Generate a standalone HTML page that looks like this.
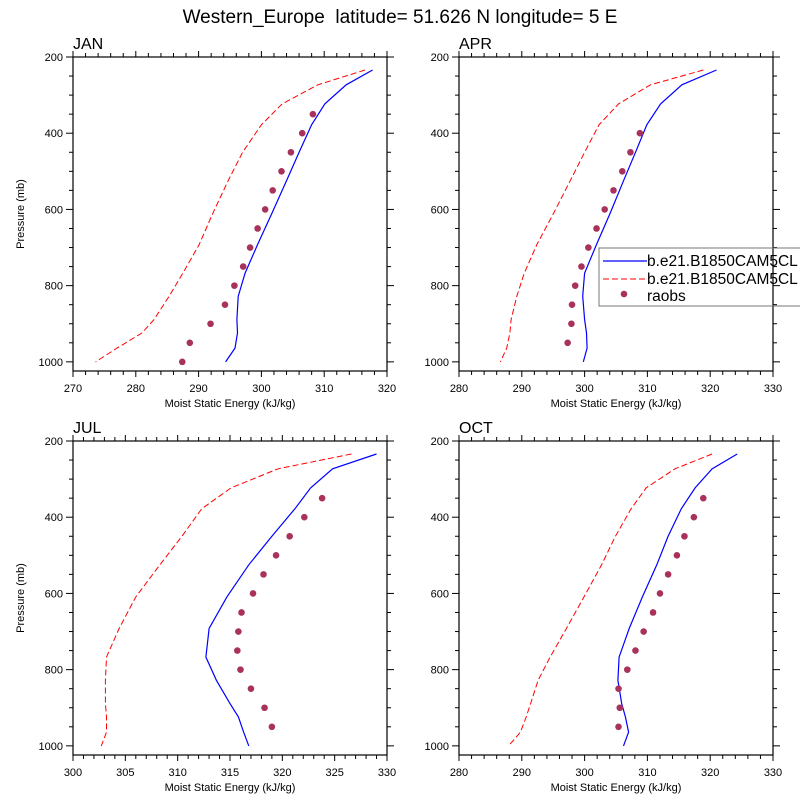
<!DOCTYPE html>
<html><head><meta charset="utf-8"><style>
body{margin:0;background:#fff;}
svg{display:block;font-family:"Liberation Sans",sans-serif;}
</style></head><body>
<svg id="chart" width="800" height="800" viewBox="0 0 800 800">
<text x="400" y="23" text-anchor="middle" font-size="19">Western_Europe &#160;latitude= 51.626 N longitude= 5 E</text>
</svg>
<script>
const levels=[234,273,323,378,450,525,609,692,767,828,889,924,964,1000];
const janBlue=[317.7,313.5,310.1,308,306.0,304.0,301.7,299.4,297.4,296.3,296.1,296.2,295.8,294.3];
const janRed=[316.5,309,303.3,300,297.0,294.7,292.3,290.1,287.5,285.3,282.9,281,277,273.6];
const janObsP=[350,400,450,500,550,600,650,700,750,800,850,900,950,1000];
const janObs=[308.2,306.5,304.7,303.2,301.8,300.6,299.4,298.2,297.1,295.7,294.2,291.9,288.6,287.4];
const aprBlue=[321.0,315.5,312.1,309.9,308.1,306.2,304.1,301.9,300.0,299.7,300.0,300.3,300.4,299.8];
const aprRed=[318.9,310.5,305.4,302.3,300.0,297.7,295.1,292.4,290.4,289.2,288.3,288.1,287.6,286.6];
const aprObsP=[400,450,500,550,600,650,700,750,800,850,900,950];
const aprObs=[308.8,307.3,306.0,304.6,303.2,301.9,300.6,299.5,298.5,298.0,297.9,297.3];
const julBlue=[329,324.8,322.7,321.2,319.0,316.8,314.7,313.0,312.7,313.7,315.0,315.8,316.3,316.8];
const julRed=[326.6,319.6,315.1,312.3,310.4,308.3,306.0,304.4,303.2,303.1,303.1,303.2,303.2,302.7];
const julObsP=[350,400,450,500,550,600,650,700,750,800,850,900,950];
const julObs=[323.8,322.1,320.7,319.4,318.2,317.2,316.1,315.8,315.7,316.0,317.0,318.3,319.0];
const octBlue=[324.3,320.3,317.6,315.4,313.3,311.5,309.2,307.1,305.5,305.3,305.9,306.5,307.0,306.2];
const octRed=[320.3,314.4,309.8,307.4,304.9,302.7,299.9,297.1,294.5,292.6,291.4,290.7,289.8,287.9];
const octObsP=[350,400,450,500,550,600,650,700,750,800,850,900,950];
const octObs=[318.9,317.4,315.9,314.7,313.3,312.0,310.9,309.4,308.1,306.8,305.4,305.6,305.4];
const janX=[270,280,290,300,310,320];
const aprX=[280,290,300,310,320,330];
const julX=[300,305,310,315,320,325,330];
const octX=[280,290,300,310,320,330];
const yTicks=[200,400,600,800,1000];

const NS='http://www.w3.org/2000/svg';
const svg=document.getElementById('chart');
function mk(tag,attrs,parent){const e=document.createElementNS(NS,tag);for(const k in attrs)e.setAttribute(k,attrs[k]);(parent||svg).appendChild(e);return e;}

const panels=[
 {id:'jan',label:'JAN',x0:73,y0:57,xt:janX,minor:2,blue:janBlue,red:janRed,op:janObsP,ov:janObs,ylab:true},
 {id:'apr',label:'APR',x0:459,y0:57,xt:aprX,minor:2,blue:aprBlue,red:aprRed,op:aprObsP,ov:aprObs,ylab:false},
 {id:'jul',label:'JUL',x0:73,y0:441,xt:julX,minor:1,blue:julBlue,red:julRed,op:julObsP,ov:julObs,ylab:true},
 {id:'oct',label:'OCT',x0:459,y0:441,xt:octX,minor:2,blue:octBlue,red:octRed,op:octObsP,ov:octObs,ylab:false}
];
const W=314,H=314,PMAX=1024;
panels.forEach(P=>{
 const g=mk('g',{});
 
 
 const xmin=P.xt[0],xmax=P.xt[P.xt.length-1];
 const sx=v=>P.x0+(v-xmin)/(xmax-xmin)*W;
 const sy=p=>P.y0+(p-200)/(PMAX-200)*H;
 const lab=mk('text',{x:P.x0,y:P.y0-8,'font-size':16},g);lab.textContent=P.label;
 
 
 for(let v=xmin;v<=xmax+1e-9;v+=P.minor){
  const maj=P.xt.some(t=>Math.abs(t-v)<1e-6);const L=maj?6:4;const x=sx(v);
  mk('line',{x1:x,x2:x,y1:P.y0+H,y2:P.y0+H+L,stroke:'#000','stroke-width':1},g);
  mk('line',{x1:x,x2:x,y1:P.y0,y2:P.y0-L,stroke:'#000','stroke-width':1},g);
 }
 P.xt.forEach(v=>{const t=mk('text',{x:sx(v),y:P.y0+H+21,'font-size':11,'text-anchor':'middle'},g);t.textContent=v;
  });
 for(let p=200;p<=1000;p+=50){
  const maj=yTicks.includes(p);const L=maj?7:4;const y=sy(p);
  mk('line',{x1:P.x0,x2:P.x0-L,y1:y,y2:y,stroke:'#000','stroke-width':1},g);
  mk('line',{x1:P.x0+W,x2:P.x0+W+L,y1:y,y2:y,stroke:'#000','stroke-width':1},g);
 }
 yTicks.forEach(p=>{const t=mk('text',{x:P.x0-10,y:sy(p)+4,'font-size':11,'text-anchor':'end'},g);t.textContent=p;
  });
 const xt=mk('text',{x:P.x0+W/2,y:P.y0+H+36,'font-size':11,'text-anchor':'middle'},g);xt.textContent='Moist Static Energy (kJ/kg)';
 
 if(P.ylab){const yt=mk('text',{x:0,y:0,'font-size':11,'text-anchor':'middle',transform:`translate(${P.x0-49},${P.y0+H/2}) rotate(-90)`},g);yt.textContent='Pressure (mb)';
  }
 const pts=arr=>arr.map((v,i)=>sx(v).toFixed(1)+','+sy(levels[i]).toFixed(1)).join(' ');
 const rl=mk('polyline',{points:pts(P.red),fill:'none',stroke:'#ff0000','stroke-width':1,'stroke-dasharray':'6,3'},g);
 
 const bl=mk('polyline',{points:pts(P.blue),fill:'none',stroke:'#0000ff','stroke-width':1.2},g);
 
 P.ov.forEach((v,i)=>{const c=mk('circle',{cx:sx(v),cy:sy(P.op[i]),r:3.3,fill:'#a8325c'},g);
  });
 const box=mk('rect',{x:P.x0,y:P.y0,width:W,height:H,fill:'none',stroke:'#000','stroke-width':1.2},g);
 
});
const lg=mk('g',{});


mk('rect',{x:599,y:248,width:210,height:58,fill:'none',stroke:'#777','stroke-width':1},lg);
mk('line',{x1:603,x2:647,y1:261,y2:261,stroke:'#0000ff','stroke-width':1.2},lg);
mk('line',{x1:603,x2:647,y1:279,y2:279,stroke:'#ff0000','stroke-width':1,'stroke-dasharray':'6,3'},lg);
mk('circle',{cx:624,cy:294,r:3.3,fill:'#a8325c'},lg);
[['b.e21.B1850CAM5CL',266],['b.e21.B1850CAM5CL',284],['raobs',301]].forEach(([s,y],i)=>{
 const t=mk('text',{x:647,y:y,'font-size':15.5},lg);t.textContent=s;
 
 
});
</script>
</body></html>
